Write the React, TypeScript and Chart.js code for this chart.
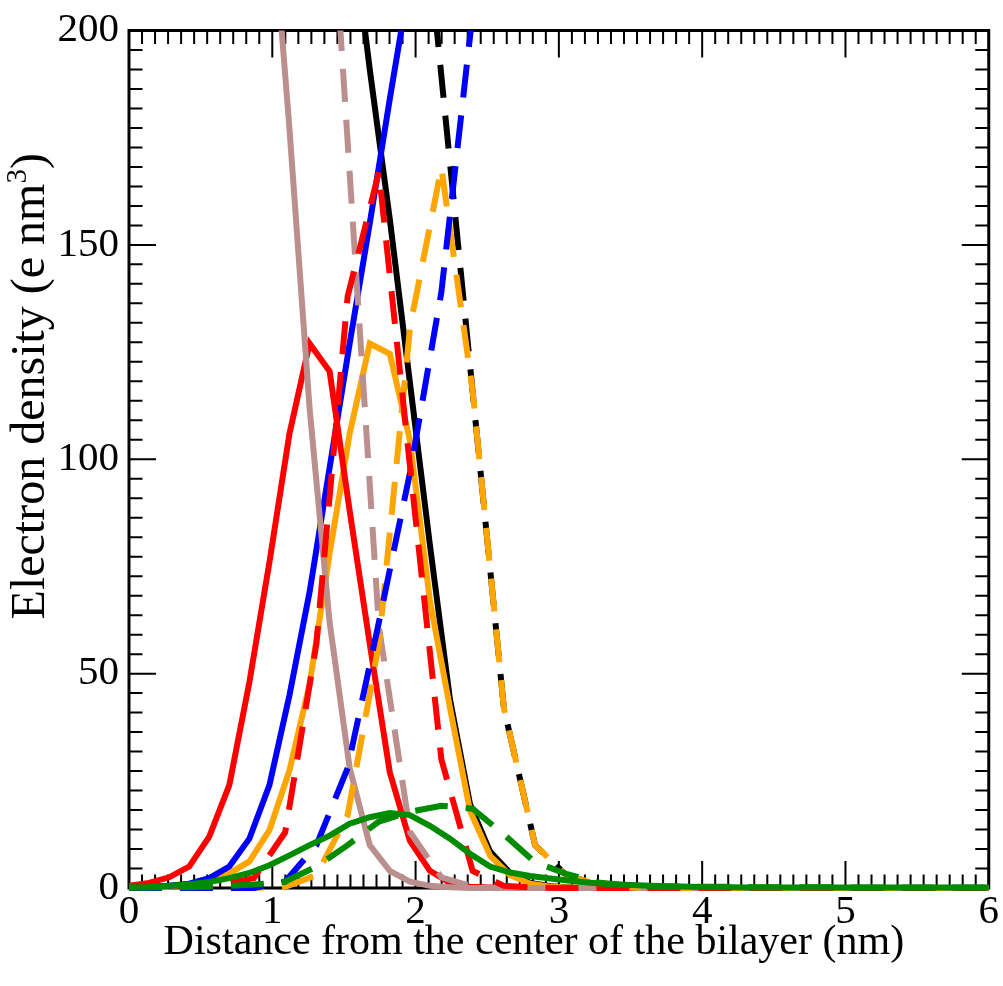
import React, { useEffect, useRef } from 'react';
import { Chart, registerables } from 'chart.js';

Chart.register(...registerables);

// x grid of the solid-line profiles (nm)
const xSolid = [0, 0.14, 0.28, 0.42, 0.56, 0.7, 0.84, 0.98, 1.12, 1.26, 1.4, 1.54, 1.68, 1.82, 1.96, 2.1, 2.24, 2.38, 2.52, 2.66, 2.8, 2.94, 3.08, 3.22, 3.36, 3.5, 3.64, 3.78, 3.92, 4.06, 4.2, 4.34, 4.48, 4.62, 4.76, 4.9, 5.04, 5.18, 5.32, 5.46, 5.6, 5.74, 5.88, 6.02];
// x grid of the dashed-line profiles (nm)
const xDashed = [0, 0.218, 0.436, 0.654, 0.872, 1.09, 1.308, 1.526, 1.744, 1.962, 2.18, 2.398, 2.616, 2.834, 3.052, 3.27, 3.488, 3.706, 3.924, 4.142, 4.36, 4.578, 4.796, 5.014, 5.232, 5.45, 5.668, 5.886, 6.104];

const redSolid = [0.5, 1.2, 2.5, 5, 12, 24, 48, 76, 106, 127, 120.5, 88, 57, 27, 11, 4, 1.2, 0.3, 0.1, 0, 0, 0, 0, 0, 0, 0, 0, 0, 0, 0, 0, 0, 0, 0, 0, 0, 0, 0, 0, 0, 0, 0, 0, 0];
const blueSolid = [0.2, 0.3, 0.5, 1.0, 2.3, 5, 11.5, 24, 45, 69, 98, 127, 155, 184, 212, 240, null, null, null, null, null, null, null, null, null, null, null, null, null, null, null, null, null, null, null, null, null, null, null, null, null, null, null, null];
const blackSolid = [null, null, null, null, null, null, null, null, null, null, null, 229, 191, 156, 118, 80, 44, 19.5, 8.5, 3.5, 1.2, 0.4, 0.1, 0, 0, 0, 0, 0, 0, 0, 0, 0, 0, 0, 0, 0, 0, 0, 0, 0, 0, 0, 0, 0];
const orangeSolid = [0.1, 0.2, 0.4, 0.8, 1.7, 3.4, 6.2, 13.5, 27.5, 47.5, 78, 106, 127, 124.6, 104.5, 67, 42, 18, 7.5, 3, 1, 0.3, 0.1, 0, 0, 0, 0, 0, 0, 0, 0, 0, 0, 0, 0, 0, 0, 0, 0, 0, 0, 0, 0, 0];
const greenSolid = [0.1, 0.2, 0.5, 0.9, 1.4, 2.3, 3.5, 5.3, 7.6, 10, 12.2, 15, 16.5, 17.5, 17, 14.5, 11.5, 8, 5, 3.6, 2.8, 2.2, 1.7, 1.2, 0.9, 0.7, 0.5, 0.4, 0.3, 0.2, 0.2, 0.1, 0.1, 0.1, 0.1, 0.1, 0.1, 0.1, 0.1, 0.1, 0.1, 0.1, 0.1, 0.1];
const rosySolid = [null, null, null, null, null, null, null, 236, 177, 112, 62, 28, 10, 4, 1.5, 0.5, 0.2, 0, 0, 0, 0, 0, 0, 0, 0, 0, 0, 0, 0, 0, 0, 0, 0, 0, 0, 0, 0, 0, 0, 0, 0, 0, 0, 0];

const redDashed = [0.3, 0.3, 0.5, 0.8, 2.3, 13, 57, 138, 167, 98, 30, 4, 0.5, 0.1, 0, 0, 0, 0, 0, 0, 0, 0, 0, 0, 0, 0, 0, 0, 0];
const blueDashed = [0, 0, 0, 0, 0, 1.5, 10, 28, 62, 97, 139, 204, 270, null, null, null, null, null, null, null, null, null, null, null, null, null, null, null, null];
const blackDashed = [null, null, null, null, null, null, null, null, null, 263, 189.4, 115.8, 42, 10, 3, 0.8, 0.2, 0, 0, 0, 0, 0, 0, 0, 0, 0, 0, 0, 0];
const orangeDashed = [0, 0, 0, 0, 0, 0.3, 3, 17, 57, 131, 168, 116, 42, 10, 3, 0.8, 0.2, 0, 0, 0, 0, 0, 0, 0, 0, 0, 0, 0, 0];
const greenDashed = [0.1, 0.1, 0.2, 0.4, 0.8, 1.5, 5, 10, 15.5, 17.8, 19.2, 18.5, 12.5, 6, 3.3, 1.3, 0.6, 0.4, 0.3, 0.3, 0.2, 0.2, 0.2, 0.1, 0.1, 0.1, 0.1, 0.1, 0.1];
const rosyDashed = [null, null, null, null, null, null, 286, 174, 61, 13, 2.5, 0.3, 0, 0, 0, 0, 0, 0, 0, 0, 0, 0, 0, 0, 0, 0, 0, 0, 0];

const xMajorTicks = [0, 1, 2, 3, 4, 5, 6];
const yMajorTicks = [0, 50, 100, 150, 200];
const minorDivisions = 11;

const xTitle = 'Distance from the center of the bilayer (nm)';
const yTitleMain = 'Electron density (e nm';
const yTitleSup = '3';
const yTitleEnd = ')';

const SERIF = "'Liberation Serif', 'Times New Roman', serif";

const RED = '#ff0000';
const BLUE = '#0000ff';
const BLACK = '#000000';
const ORANGE = '#ffa500';
const GREEN = '#008b00';
const ROSY = '#bc8f8f';

const DASH = [33, 18];

function pts(xs: number[], ys: (number | null)[]) {
  return xs.map((x, i) => ({ x, y: ys[i] }));
}

const frameTicks = {
  id: 'frameTicks',
  beforeDatasetsDraw(chart: any) {
    const { ctx, chartArea, scales } = chart;
    const { left, right, top, bottom } = chartArea;
    const xs = scales.x;
    const ys = scales.y;
    const major = 27;
    const minor = 13.5;
    ctx.save();
    ctx.strokeStyle = '#000';
    ctx.lineWidth = 2;
    ctx.lineCap = 'butt';
    ctx.beginPath();
    for (let i = 0; i < xMajorTicks.length; i++) {
      const v0 = xMajorTicks[i];
      const p = xs.getPixelForValue(v0);
      ctx.moveTo(p, bottom); ctx.lineTo(p, bottom - major);
      ctx.moveTo(p, top); ctx.lineTo(p, top + major);
      if (i < xMajorTicks.length - 1) {
        const step = (xMajorTicks[i + 1] - v0) / minorDivisions;
        for (let k = 1; k < minorDivisions; k++) {
          const pm = xs.getPixelForValue(v0 + k * step);
          ctx.moveTo(pm, bottom); ctx.lineTo(pm, bottom - minor);
          ctx.moveTo(pm, top); ctx.lineTo(pm, top + minor);
        }
      }
    }
    for (let i = 0; i < yMajorTicks.length; i++) {
      const v0 = yMajorTicks[i];
      const p = ys.getPixelForValue(v0);
      ctx.moveTo(left, p); ctx.lineTo(left + major, p);
      ctx.moveTo(right, p); ctx.lineTo(right - major, p);
      if (i < yMajorTicks.length - 1) {
        const step = (yMajorTicks[i + 1] - v0) / minorDivisions;
        for (let k = 1; k < minorDivisions; k++) {
          const pm = ys.getPixelForValue(v0 + k * step);
          ctx.moveTo(left, pm); ctx.lineTo(left + minor, pm);
          ctx.moveTo(right, pm); ctx.lineTo(right - minor, pm);
        }
      }
    }
    ctx.stroke();
    ctx.lineWidth = 3;
    ctx.strokeRect(left, top, right - left, bottom - top);
    ctx.restore();
  },
  afterDraw(chart: any) {
    const { ctx, chartArea } = chart;
    const { left, right, top, bottom } = chartArea;
    ctx.save();
    ctx.fillStyle = '#000';
    ctx.textBaseline = 'alphabetic';
    // x-axis title
    ctx.font = `42px ${SERIF}`;
    ctx.textAlign = 'center';
    ctx.fillText(xTitle, (left + right) / 2 - 25, bottom + 66);
    // y-axis title (rotated, with superscript)
    const mainFont = `48px ${SERIF}`;
    const supFont = `29px ${SERIF}`;
    ctx.font = mainFont;
    const wMain = ctx.measureText(yTitleMain).width;
    const wEnd = ctx.measureText(yTitleEnd).width;
    ctx.font = supFont;
    const wSup = ctx.measureText(yTitleSup).width;
    const total = wMain + wSup + wEnd;
    const cy = (top + bottom) / 2 - 73;
    ctx.translate(44, cy);
    ctx.rotate(-Math.PI / 2);
    ctx.textAlign = 'left';
    let xPos = -total / 2;
    ctx.font = mainFont;
    ctx.fillText(yTitleMain, xPos, 0);
    xPos += wMain;
    ctx.font = supFont;
    ctx.fillText(yTitleSup, xPos, -18);
    xPos += wSup;
    ctx.font = mainFont;
    ctx.fillText(yTitleEnd, xPos, 0);
    ctx.restore();
  },
};

function line(label: string, xs: number[], ys: (number | null)[], color: string, dashed: boolean) {
  return {
    label,
    data: pts(xs, ys),
    borderColor: color,
    backgroundColor: color,
    borderWidth: 6,
    borderDash: dashed ? DASH : [],
    borderCapStyle: 'butt',
    borderJoinStyle: 'miter',
    pointRadius: 0,
    pointHoverRadius: 0,
    tension: 0,
    fill: false,
    clip: { left: 0, top: 0, right: 0, bottom: 3 },
  };
}

export default function App() {
  const ref = useRef<HTMLCanvasElement | null>(null);
  useEffect(() => {
    if (!ref.current) return;
    const chart = new Chart(ref.current, {
      type: 'line',
      data: {
        datasets: [
          line('green dashed', xDashed, greenDashed, GREEN, true),
          line('green', xSolid, greenSolid, GREEN, false),
          line('red dashed', xDashed, redDashed, RED, true),
          line('blue dashed', xDashed, blueDashed, BLUE, true),
          line('orange dashed', xDashed, orangeDashed, ORANGE, true),
          line('black dashed', xDashed, blackDashed, BLACK, true),
          line('rosy dashed', xDashed, rosyDashed, ROSY, true),
          line('rosy', xSolid, rosySolid, ROSY, false),
          line('red', xSolid, redSolid, RED, false),
          line('blue', xSolid, blueSolid, BLUE, false),
          line('orange', xSolid, orangeSolid, ORANGE, false),
          line('black', xSolid, blackSolid, BLACK, false),
        ] as any,
      },
      options: {
        responsive: false,
        animation: false,
        events: [],
        layout: { padding: { left: 0, right: 14, top: 28, bottom: 0 } },
        plugins: {
          legend: { display: false },
          tooltip: { enabled: false },
          title: { display: false },
        },
        scales: {
          x: {
            type: 'linear',
            min: 0,
            max: 6,
            bounds: 'ticks',
            grid: { display: false, drawTicks: false },
            border: { display: false },
            ticks: {
              stepSize: 1,
              autoSkip: false,
              maxRotation: 0,
              padding: 4,
              color: '#000',
              font: { family: SERIF, size: 41, lineHeight: 1 },
            },
            afterFit: (s: any) => { s.height = 98; },
          },
          y: {
            type: 'linear',
            min: 0,
            max: 200,
            grid: { display: false, drawTicks: false },
            border: { display: false },
            ticks: {
              stepSize: 50,
              autoSkip: false,
              padding: 10,
              color: '#000',
              font: { family: SERIF, size: 41, lineHeight: 1 },
            },
            afterFit: (s: any) => { s.width = 129; },
          },
        },
      } as any,
      plugins: [frameTicks],
    });
    return () => chart.destroy();
  }, []);
  return (
    <div style={{ position: 'fixed', left: 0, top: 0, width: 1003, height: 986, background: '#fff' }}>
      <canvas ref={ref} width={1003} height={986} style={{ display: 'block' }} />
    </div>
  );
}
